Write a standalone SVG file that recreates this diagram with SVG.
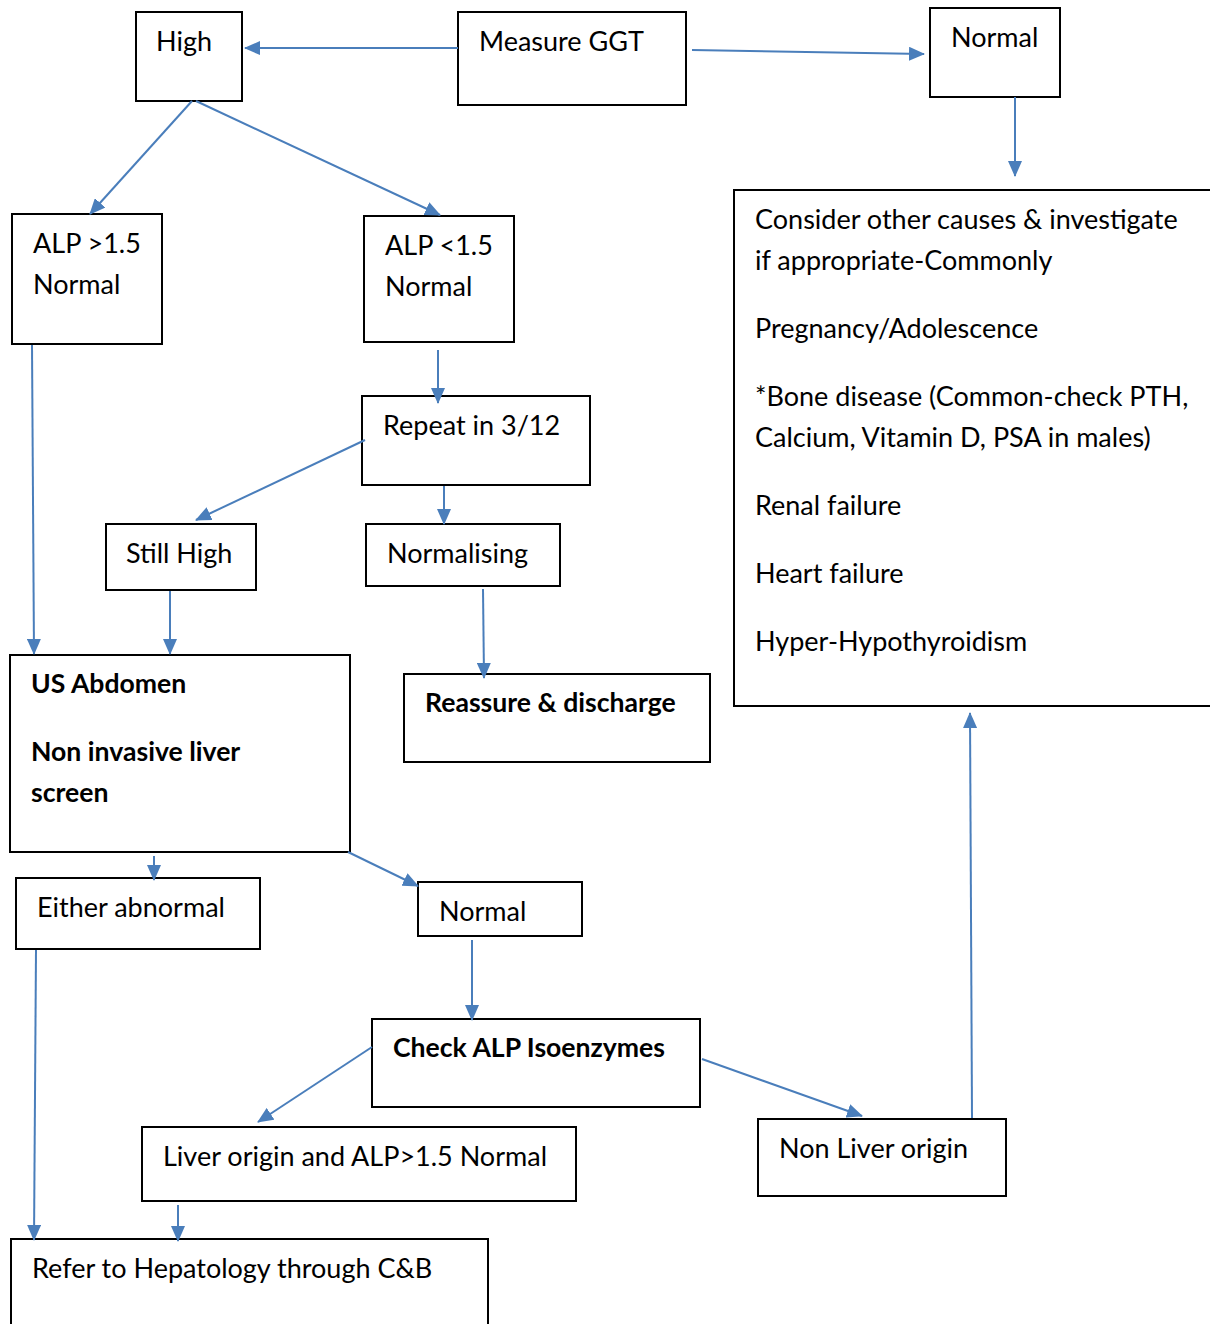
<svg xmlns="http://www.w3.org/2000/svg" width="1210" height="1324" viewBox="0 0 1210 1324">
<style>
.box{fill:#fff;stroke:#000;stroke-width:2}
.t{font-family:Lato,"Open Sans","Liberation Sans",sans-serif;font-size:27px;fill:#000}
.b{font-weight:bold;font-size:26.6px}
.c{stroke:#4a7ebb;stroke-width:2;fill:none;marker-end:url(#ah)}
</style>
<defs>
<marker id="ah" markerUnits="userSpaceOnUse" markerWidth="16" markerHeight="14" refX="15" refY="7" orient="auto">
<path d="M0,0 L16,7 L0,14 Z" fill="#4a7ebb"/>
</marker>
</defs>
<rect width="1210" height="1324" fill="#fff"/>
<g id="n-high"><rect class="box" x="136" y="12" width="106" height="89"/><text class="t" x="156" y="51">High</text></g>
<g id="n-ggt"><rect class="box" x="458" y="12" width="228" height="93"/><text class="t" x="479" y="51">Measure GGT</text></g>
<g id="n-normal-top"><rect class="box" x="930" y="8" width="130" height="89"/><text class="t" x="951" y="47">Normal</text></g>
<g id="n-other"><rect class="box" x="734" y="190" width="480" height="516"/>
<text class="t" x="755" y="229">Consider other causes &amp; investigate</text>
<text class="t" x="755" y="270">if appropriate-Commonly</text>
<text class="t" x="755" y="338">Pregnancy/Adolescence</text>
<text class="t" x="755" y="406">*Bone disease (Common-check PTH,</text>
<text class="t" x="755" y="447">Calcium, Vitamin D, PSA in males)</text>
<text class="t" x="755" y="515">Renal failure</text>
<text class="t" x="755" y="583">Heart failure</text>
<text class="t" x="755" y="651">Hyper-Hypothyroidism</text></g>
<g id="n-alp-gt"><rect class="box" x="12" y="214" width="150" height="130"/><text class="t" x="33" y="253">ALP &gt;1.5</text><text class="t" x="33" y="294">Normal</text></g>
<g id="n-alp-lt"><rect class="box" x="364" y="216" width="150" height="126"/><text class="t" x="385" y="255">ALP &lt;1.5</text><text class="t" x="385" y="296">Normal</text></g>
<g id="n-repeat"><rect class="box" x="362" y="396" width="228" height="89"/><text class="t" x="383" y="435">Repeat in 3/12</text></g>
<g id="n-still"><rect class="box" x="106" y="524" width="150" height="66"/><text class="t" x="126" y="563">Still High</text></g>
<g id="n-normalising"><rect class="box" x="366" y="524" width="194" height="62"/><text class="t" x="387" y="563">Normalising</text></g>
<g id="n-us"><rect class="box" x="10" y="655" width="340" height="197"/><text class="t b" x="31" y="693">US Abdomen</text><text class="t b" x="31" y="761">Non invasive liver</text><text class="t b" x="31" y="802">screen</text></g>
<g id="n-reassure"><rect class="box" x="404" y="674" width="306" height="88"/><text class="t b" x="425" y="712">Reassure &amp; discharge</text></g>
<g id="n-either"><rect class="box" x="16" y="878" width="244" height="71"/><text class="t" x="37" y="917">Either abnormal</text></g>
<g id="n-normal-mid"><rect class="box" x="418" y="882" width="164" height="54"/><text class="t" x="439" y="921">Normal</text></g>
<g id="n-check"><rect class="box" x="372" y="1019" width="328" height="88"/><text class="t b" x="393" y="1057">Check ALP Isoenzymes</text></g>
<g id="n-liver"><rect class="box" x="142" y="1127" width="434" height="74"/><text class="t" x="163" y="1166">Liver origin and ALP&gt;1.5 Normal</text></g>
<g id="n-nonliver"><rect class="box" x="758" y="1119" width="248" height="77"/><text class="t" x="779" y="1158">Non Liver origin</text></g>
<g id="n-refer"><rect class="box" x="11" y="1239" width="477" height="100"/><text class="t" x="32" y="1278">Refer to Hepatology through C&amp;B</text></g>
<g id="connectors">
<line class="c" x1="458" y1="48" x2="245" y2="48"/>
<line class="c" x1="692" y1="50" x2="924" y2="54"/>
<line class="c" x1="1015" y1="97" x2="1015" y2="176"/>
<line class="c" x1="192" y1="101" x2="90" y2="214"/>
<line class="c" x1="196" y1="101" x2="440" y2="215"/>
<line class="c" x1="438" y1="350" x2="438" y2="403"/>
<line class="c" x1="365" y1="440" x2="196" y2="520"/>
<line class="c" x1="444" y1="486" x2="444" y2="524"/>
<line class="c" x1="32" y1="345" x2="34" y2="654"/>
<line class="c" x1="170" y1="591" x2="170" y2="654"/>
<line class="c" x1="483" y1="589" x2="484" y2="678"/>
<line class="c" x1="154" y1="856" x2="154" y2="880"/>
<line class="c" x1="348" y1="852" x2="418" y2="886"/>
<line class="c" x1="36" y1="950" x2="34" y2="1240"/>
<line class="c" x1="472" y1="940" x2="472" y2="1020"/>
<line class="c" x1="372" y1="1047" x2="258" y2="1122"/>
<line class="c" x1="702" y1="1059" x2="862" y2="1116"/>
<line class="c" x1="972" y1="1118" x2="970" y2="713"/>
<line class="c" x1="178" y1="1205" x2="178" y2="1241"/>
</g>
</svg>
